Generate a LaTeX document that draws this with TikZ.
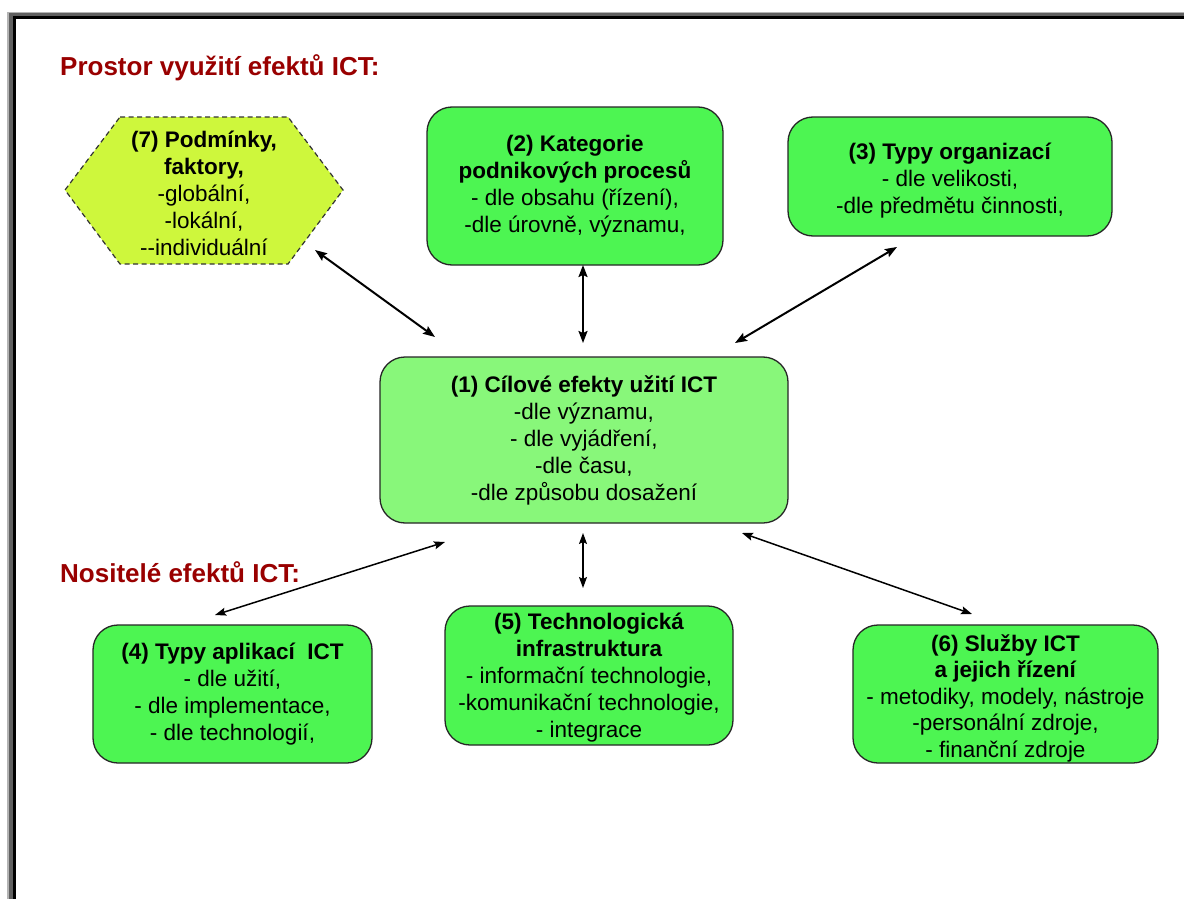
\documentclass[tikz,border=0pt]{standalone}
\usepackage{fontspec}
\setmainfont{Liberation Sans}
\usetikzlibrary{arrows.meta}
\definecolor{boxgreen}{RGB}{77,245,82}
\definecolor{centergreen}{RGB}{136,247,122}
\definecolor{hexyellow}{RGB}{206,247,60}
\definecolor{headred}{RGB}{153,0,0}
\definecolor{frlight}{RGB}{180,180,180}
\definecolor{frdark}{RGB}{96,96,96}
\tikzset{
  box/.style={draw=black!85, line width=1.3pt, rounded corners=25pt, inner sep=0pt,
    align=center, font=\fontsize{22.5}{27}\selectfont, fill=boxgreen},
  heading/.style={anchor=base west, inner sep=0pt, text=headred,
    font=\fontsize{26}{30}\selectfont\bfseries},
  biga/.style={{Stealth[length=12pt,width=9pt,inset=2pt]}-{Stealth[length=12pt,width=9pt,inset=2pt]}, line width=2pt},
  smalla/.style={{Stealth[length=11pt,width=8pt,inset=2pt]}-{Stealth[length=11pt,width=8pt,inset=2pt]}, line width=1.5pt}
}
\begin{document}
\begin{tikzpicture}[x=1pt,y=-1pt]
\useasboundingbox (0,0) rectangle (1184,899);
\fill[white] (0,0) rectangle (1184,899);
% frame
\fill[frlight] (7,11.7) rectangle (1190,905);
\fill[frdark] (9.3,13.3) rectangle (1190,905);
\fill[black] (13.3,15.7) rectangle (1190,905);
\fill[white] (15.7,19) rectangle (1190,905);

% headings
\node[heading] (h1) at (60,76) {Prostor využití efektů ICT:};
\node[heading] (h2) at (60,582) {Nositelé efektů ICT:};

% hexagon (7)
\coordinate (hx1) at (120,117);
\coordinate (hx2) at (288,117);
\coordinate (hx3) at (343,190);
\coordinate (hx4) at (288,264);
\coordinate (hx5) at (120,264);
\coordinate (hx6) at (65,190);
\draw[fill=hexyellow, draw=black!80, line width=1.2pt, dash pattern=on 5pt off 3.5pt]
  (hx1) -- (hx2) -- (hx3) -- (hx4) -- (hx5) -- (hx6) -- cycle;
\node[align=center, inner sep=0pt, font=\fontsize{22.5}{27}\selectfont] (n7) at (204,193)
  {\textbf{(7) Podmínky,}\\\textbf{faktory,}\\-globální,\\-lokální,\\-{}-individuální};

% boxes
\node[box, minimum width=296pt, minimum height=158pt] (n2) at (575,186)
  {\textbf{(2) Kategorie}\\\textbf{podnikových procesů}\\- dle obsahu (řízení),\\-dle úrovně, významu,};
\node[box, minimum width=324pt, minimum height=119pt] (n3) at (950,176.5) {};
\node[align=center, inner sep=0pt, font=\fontsize{22.5}{27}\selectfont] (t3) at (950,181)
  {\textbf{(3) Typy organizací}\\- dle velikosti,\\-dle předmětu činnosti,};
\node[box, fill=centergreen, minimum width=408pt, minimum height=166pt] (n1) at (584,440)
  {\textbf{(1) Cílové efekty užití ICT}\\-dle významu,\\- dle vyjádření,\\-dle času,\\-dle způsobu dosažení};
\node[box, minimum width=279pt, minimum height=138pt] (n4) at (232.5,694)
  {\textbf{(4) Typy aplikací~ ICT}\\- dle užití,\\- dle implementace,\\- dle technologií,};
\node[box, minimum width=288pt, minimum height=139pt] (n5) at (589,675.5) {};
\node[align=center, inner sep=0pt, font=\fontsize{22.5}{27}\selectfont] (t5) at (589,678)
  {\textbf{(5) Technologická}\\\textbf{infrastruktura}\\- informační technologie,\\-komunikační technologie,\\- integrace};
\node[box, minimum width=305pt, minimum height=138pt] (n6) at (1005.5,694) {};
\node[align=center, inner sep=0pt, font=\fontsize{22.5}{26.5}\selectfont] (t6) at (1005.5,698)
  {\textbf{(6) Služby ICT}\\\textbf{a jejich řízení}\\- metodiky, modely, nástroje\\-personální zdroje,\\- finanční zdroje};

% arrow end points
\coordinate (a7s) at (315,250); \coordinate (a7e) at (435,337);
\coordinate (a2s) at (583,265); \coordinate (a2e) at (583,343);
\coordinate (a3s) at (897,247); \coordinate (a3e) at (735,343);
\coordinate (a4s) at (445,542); \coordinate (a4e) at (215,615);
\coordinate (a5s) at (583,533); \coordinate (a5e) at (583,588);
\coordinate (a6s) at (742,533); \coordinate (a6e) at (972,614);

\draw[biga] (a7s) -- (a7e);
\draw[biga] (a2s) -- (a2e);
\draw[biga] (a3s) -- (a3e);
\draw[smalla] (a4s) -- (a4e);
\draw[smalla] (a5s) -- (a5e);
\draw[smalla] (a6s) -- (a6e);
\end{tikzpicture}
\end{document}
